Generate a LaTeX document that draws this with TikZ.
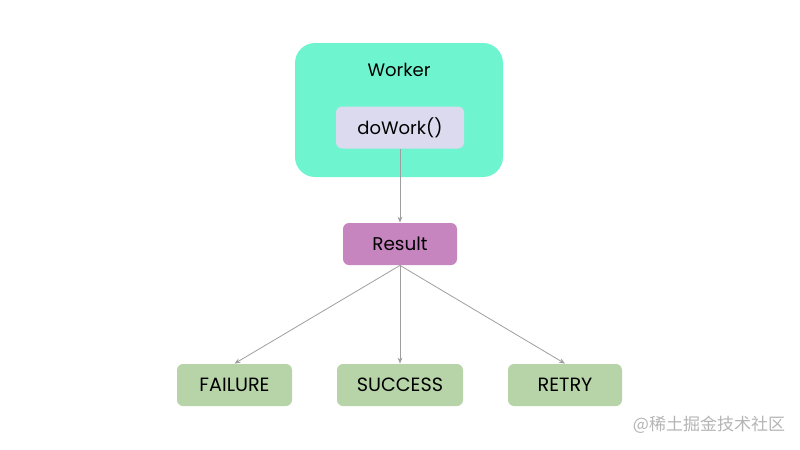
\documentclass[tikz,border=0pt]{standalone}
\usepackage{fontspec}
\setmainfont{Poppins}
\newfontfamily\cjk{Noto Sans CJK SC}
\usetikzlibrary{arrows.meta}
\definecolor{workergreen}{HTML}{6EF5CF}
\definecolor{dolavender}{HTML}{DCDAEF}
\definecolor{resultpink}{HTML}{C785C0}
\definecolor{statesage}{HTML}{B7D4A8}
\definecolor{linegray}{HTML}{9E9E9E}
\definecolor{markgray}{HTML}{B4B4B4}

\begin{document}
\begin{tikzpicture}[x=0.5pt,y=-0.5pt,
    workerbox/.style={shape=rectangle,rounded corners=10pt,fill=workergreen,minimum width=104pt,minimum height=67pt},
    smallbox/.style={shape=rectangle,rounded corners=3pt,minimum height=21pt,font=\fontsize{9.6pt}{11pt}\selectfont},
    stateline/.style={draw=linegray,line width=0.4pt,-{Stealth[length=3pt,width=2.4pt]}}]
    \useasboundingbox (0,0) rectangle (800,450);
    \node[workerbox] (W) at (399,110) {};
    \node[font=\fontsize{9pt}{10pt}\selectfont] (WL) at (399,70) {Worker};
    \node[smallbox,fill=dolavender,minimum width=64pt,font=\fontsize{9pt}{11pt}\selectfont] (D) at (400,127.5) {doWork()};
    \node[smallbox,fill=resultpink,minimum width=57pt,font=\fontsize{9.2pt}{11pt}\selectfont] (R) at (400,244) {Result};
    \node[smallbox,fill=statesage,minimum width=57.5pt] (F) at (234.5,385) {FAILURE};
    \node[smallbox,fill=statesage,minimum width=63pt] (S) at (400,385) {SUCCESS};
    \node[smallbox,fill=statesage,minimum width=57pt] (T) at (565,385) {RETRY};
    \node[text=markgray,font=\cjk\fontsize{8.5pt}{10pt}\selectfont] (M) at (709,425) {@稀土掘金技术社区};
    \draw [stateline] (D) -- (R);
    \draw [stateline] (R.south) -- (F.north);
    \draw [stateline] (R.south) -- (S.north);
    \draw [stateline] (R.south) -- (T.north);
\end{tikzpicture}
\end{document}
